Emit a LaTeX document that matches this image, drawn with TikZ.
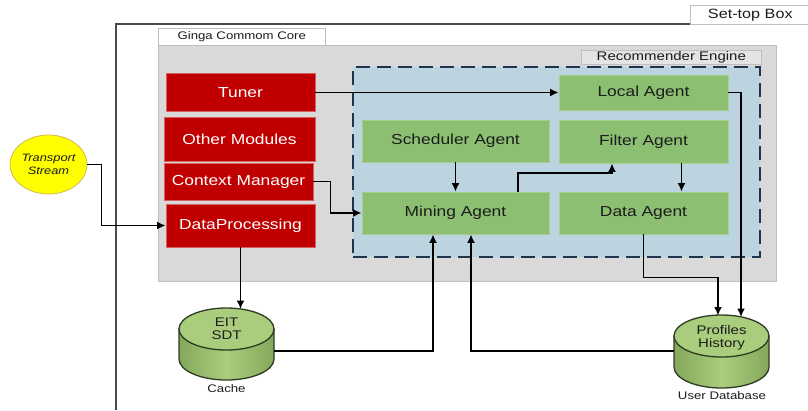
\documentclass[tikz,border=0pt]{standalone}
\usepackage{fontspec}
\setmainfont{Liberation Sans}[FakeStretch=1.2]
\usetikzlibrary{calc,arrows.meta,shapes.geometric}
\definecolor{cRed}{HTML}{C00000}
\definecolor{cRedB}{HTML}{D86060}
\definecolor{cGreen}{HTML}{8CBF72}
\definecolor{cGreenB}{HTML}{A6CF8E}
\definecolor{cBlue}{HTML}{BBD4DF}
\definecolor{cDash}{HTML}{1E3550}
\definecolor{cGrey}{HTML}{D9D9D9}
\definecolor{cGreyB}{HTML}{BFBFBF}
\definecolor{cFrame}{HTML}{4A4A4A}
\definecolor{cCyl}{HTML}{9CC56C}
\definecolor{cCylTop}{HTML}{A9CD7C}
\definecolor{cCylB}{HTML}{2F3A22}
\definecolor{cYel}{HTML}{FFFF00}
\definecolor{cYelB}{HTML}{CDBB55}
\definecolor{cTxt}{HTML}{1C1C1C}
\tikzset{
  rbox/.style={rectangle, fill=cRed, draw=cRedB, line width=0.8pt, text=white, inner sep=0pt, font=\fontsize{14.5}{17}\selectfont},
  gbox/.style={rectangle, fill=cGreen, draw=cGreenB, line width=0.8pt, text=cTxt, inner sep=0pt, font=\fontsize{14.5}{17}\selectfont},
  lbl/.style={rectangle, inner sep=0pt, text=cTxt, font=\fontsize{11}{13}\selectfont},
  arr/.style={draw=black, line width=1.8pt, -{Latex[length=8.5pt,width=8pt]}},
  cyl/.style={left color=cCyl!85!black, right color=cCyl!85!black, middle color=cCylTop, draw=cCylB, line width=1.3pt},
  cyltop/.style={fill=cCylTop, draw=cCylB, line width=1.3pt},
  cyltxt/.style={inner sep=0pt, text=cTxt, font=\fontsize{12.5}{14.5}\selectfont, align=center},
}
\begin{document}
\begin{tikzpicture}[x=1pt,y=-1pt]
\useasboundingbox (0,0) rectangle (808,410);
% set-top box frame
\draw[cFrame, line width=1.5pt] (116,410) -- (116,24) -- (812,24);
\node[lbl, draw=cGreyB, fill=white, line width=0.6pt, minimum width=124pt, minimum height=19pt, anchor=north west, font=\fontsize{13.5}{15}\selectfont] (stb) at (690,5) {\hspace*{-4pt}Set-top Box};
% ginga core
\node[rectangle, fill=cGrey, draw=cGreyB, line width=0.6pt, minimum width=618pt, minimum height=236pt, anchor=north west] (core) at (158,45) {};
\node[lbl, fill=white, draw=cGreyB, line width=0.6pt, minimum width=167pt, minimum height=17pt, anchor=north west] (corelbl) at (158,28) {Ginga Commom Core};
% recommender engine
\node[rectangle, fill=cBlue, draw=cDash, line width=2pt, dash pattern=on 14pt off 7pt, minimum width=407pt, minimum height=190pt, anchor=north west] (rec) at (352,66) {};
\node[lbl, fill=cGrey!70!white, draw=cGreyB, line width=0.6pt, minimum width=180pt, minimum height=14pt, anchor=north west, font=\fontsize{12.5}{14}\selectfont] (reclbl) at (581,50) {Recommender Engine};
% red modules
\node[rbox, minimum width=149pt, minimum height=38pt] (tuner) at (240.5,92.5) {Tuner};
\node[rbox, minimum width=151pt, minimum height=44pt] (other) at (239.5,139) {Other Modules};
\node[rbox, minimum width=149pt, minimum height=37pt] (ctx) at (238.5,181.5) {Context Manager};
\node[rbox, minimum width=149pt, minimum height=43pt] (dp) at (240.5,225.5) {DataProcessing};
% agents
\node[gbox, minimum width=169pt, minimum height=35pt] (local) at (643.5,92.5) {Local Agent};
\node[gbox, minimum width=187pt, minimum height=42pt] (sched) at (455.5,141) {Scheduler Agent};
\node[gbox, minimum width=169pt, minimum height=43pt] (filter) at (643.5,141.5) {Filter Agent};
\node[gbox, minimum width=187pt, minimum height=42pt] (mining) at (455.5,213) {Mining Agent};
\node[gbox, minimum width=169pt, minimum height=42pt] (data) at (643.5,213) {Data Agent};
% transport stream
\node[ellipse, fill=cYel, draw=cYelB, line width=0.8pt, minimum width=77pt, minimum height=59pt, inner sep=0pt, align=center, font=\itshape\fontsize{10.7}{13}\selectfont, text=cTxt] (ts) at (48.5,164.5) {Transport\\Stream};
% cache cylinder
\path[cyl] (179,329) -- (179,359) arc[start angle=180, end angle=360, x radius=47.5pt, y radius=21pt] -- (274,329) -- cycle;
\draw[cyltop] (226.5,329) ellipse [x radius=47.5pt, y radius=21pt];
\node[cyltxt] (cachetxt) at (226.5,329) {EIT\\[-1pt]SDT};
\node[lbl] (cachelbl) at (226.5,389) {Cache};
\coordinate (cacheIn) at (240.5,309);
\coordinate (cacheOut) at (274,351);
% user database cylinder
\path[cyl] (674,336) -- (674,367) arc[start angle=180, end angle=360, x radius=47.5pt, y radius=21pt] -- (769,336) -- cycle;
\draw[cyltop] (721.5,336) ellipse [x radius=47.5pt, y radius=21pt];
\node[cyltxt] (udbtxt) at (721.5,338) {Profiles\\[-1pt]History};
\node[lbl] (udblbl) at (722,396) {User Database};
\coordinate (udbA) at (741,317);
\coordinate (udbB) at (718,315.5);
\coordinate (udbOut) at (674,351);
% connectors
\draw[arr] (ts.east) -- ++(14,0) |- (dp.west);
\draw[arr] (ctx.east) -- ++(17,0) |- (mining.west);
\draw[arr] (tuner.east) -- (tuner.east -| local.west);
\draw[arr] (local.east) -| (udbA);
\draw[arr] (data.south) -- ++(0,43) -| (udbB);
\draw[arr] (sched.south) -- (mining.north);
\draw[arr] ($(mining.north)+(62.5,0)$) -- ++(0,-19) -| ($(filter.south)+(-31.5,0)$);
\draw[arr] ($(filter.south)+(38,0)$) -- ($(data.north)+(38,0)$);
\draw[arr] (dp.south) -- (cacheIn);
\draw[arr] (cacheOut) -| ($(mining.south)+(-22.5,0)$);
\draw[arr] (udbOut) -| ($(mining.south)+(15.5,0)$);
\end{tikzpicture}
\end{document}
